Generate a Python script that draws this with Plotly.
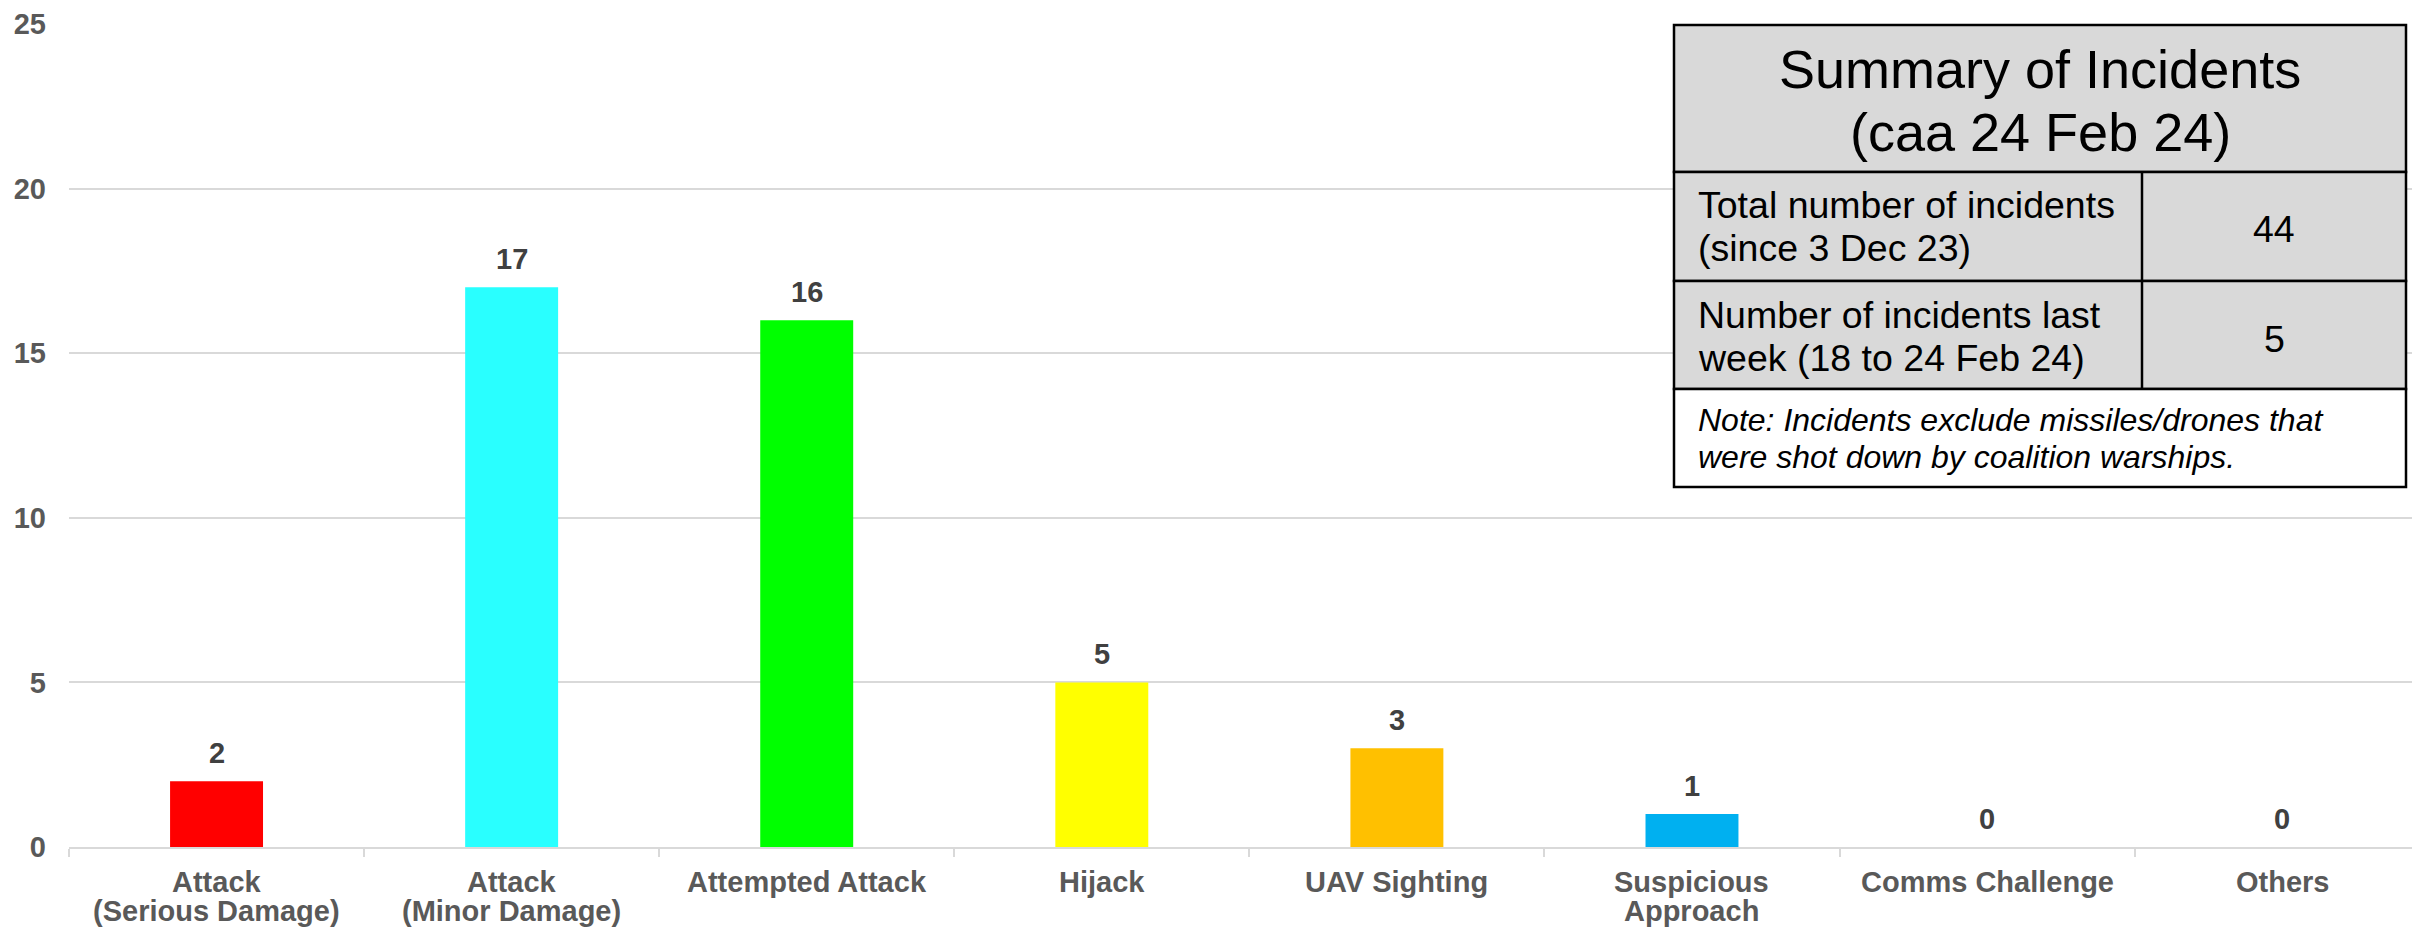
import plotly.graph_objects as go

categories = ["Attack<br>(Serious Damage)", "Attack<br>(Minor Damage)", "Attempted Attack", "Hijack",
              "UAV Sighting", "Suspicious<br>Approach", "Comms Challenge", "Others"]
values = [2, 17, 16, 5, 3, 1, 0, 0]
colors = ["#FF0000", "#29FFFF", "#00FF00", "#FFFF00", "#FFC000", "#00B0F0", "#A5A5A5", "#A5A5A5"]
y_ticks = [0, 5, 10, 15, 20, 25]

table_title = ["Summary of Incidents", "(caa 24 Feb 24)"]
row1_label = ["Total number of incidents", "(since 3 Dec 23)"]
row1_value = "44"
row2_label = ["Number of incidents last", "week (18 to 24 Feb 24)"]
row2_value = "5"
note_lines = ["Note: Incidents exclude missiles/drones that", "were shot down by coalition warships."]

W, H = 2412, 930
ML, MR, MT, MB = 69, 0, 24, 83
PW, PH = W - ML - MR, H - MT - MB
FONT = "Arial, Liberation Sans, sans-serif"


def px(X):
    return (X - ML) / PW


def py(Y):
    return (H - MB - Y) / PH


fig = go.Figure()
fig.add_trace(go.Bar(
    x=categories, y=values, marker=dict(color=colors, line=dict(width=0)),
    width=0.315, hoverinfo="skip", showlegend=False,
))

annotations = []
for c, v in zip(categories, values):
    annotations.append(dict(x=c, y=v, xref="x", yref="y", text=f"<b>{v}</b>", showarrow=False,
                            yanchor="bottom", yshift=10,
                            font=dict(family=FONT, size=29, color="#404040")))

# category labels (tight line spacing, as in the reference)
for c in categories:
    for j, line in enumerate(c.split("<br>")):
        annotations.append(dict(x=c, y=0, xref="x", yref="y", text=f"<b>{line}</b>", showarrow=False,
                                xanchor="center", yanchor="middle", yshift=-35 - 29 * j,
                                font=dict(family=FONT, size=29, color="#595959")))

shapes = []
tx0, tx1 = 1674, 2406
ty = [25, 172, 281, 389, 487]
colx = 2142
fills = ["#D9D9D9", "#D9D9D9", "#D9D9D9", "#FFFFFF"]
for i in range(4):
    shapes.append(dict(type="rect", xref="paper", yref="paper", x0=px(tx0), x1=px(tx1),
                       y0=py(ty[i + 1]), y1=py(ty[i]), fillcolor=fills[i],
                       line=dict(color="black", width=2.5), layer="above"))
shapes.append(dict(type="line", xref="paper", yref="paper", x0=px(colx), x1=px(colx),
                   y0=py(ty[3]), y1=py(ty[1]), line=dict(color="black", width=2.5), layer="above"))


def txt(text, X, Y, size, xanchor="left", italic=False):
    annotations.append(dict(x=px(X), y=py(Y), xref="paper", yref="paper", text=text, showarrow=False,
                            xanchor=xanchor, yanchor="middle",
                            font=dict(family=FONT, size=size, color="black",
                                      style="italic" if italic else "normal")))


txt(table_title[0], 2040, 69, 54, "center")
txt(table_title[1], 2040, 132, 54, "center")
txt(row1_label[0], 1696, 205, 37.5)
txt(row1_label[1], 1696, 248, 37.5)
txt(row1_value, 2274, 229, 37.5, "center")
txt(row2_label[0], 1696, 315, 37.5)
txt(row2_label[1], 1696, 358, 37.5)
txt(row2_value, 2274, 339, 37.5, "center")
txt(note_lines[0], 1696, 420, 32, italic=True)
txt(note_lines[1], 1696, 457, 32, italic=True)

fig.update_layout(
    width=W, height=H,
    margin=dict(l=ML, r=MR, t=MT, b=MB, pad=0, autoexpand=False),
    paper_bgcolor="white", plot_bgcolor="white",
    bargap=0.68,
    annotations=annotations, shapes=shapes,
    xaxis=dict(type="category", range=[-0.5, 7.44], showgrid=False, zeroline=False, automargin=False,
               showline=True, linecolor="#D9D9D9", linewidth=2, showticklabels=False,
               ticks="outside", tickson="boundaries", ticklen=8, tickcolor="#D9D9D9", tickwidth=2),
    yaxis=dict(range=[0, 25], tickvals=y_ticks, showgrid=True, gridcolor="#D9D9D9", gridwidth=1.5,
               zeroline=False, showline=False, ticks="", ticklabelstandoff=22, automargin=False,
               tickfont=dict(family=FONT, size=29, color="#595959", weight="bold")),
)
fig.write_html("out.html")
